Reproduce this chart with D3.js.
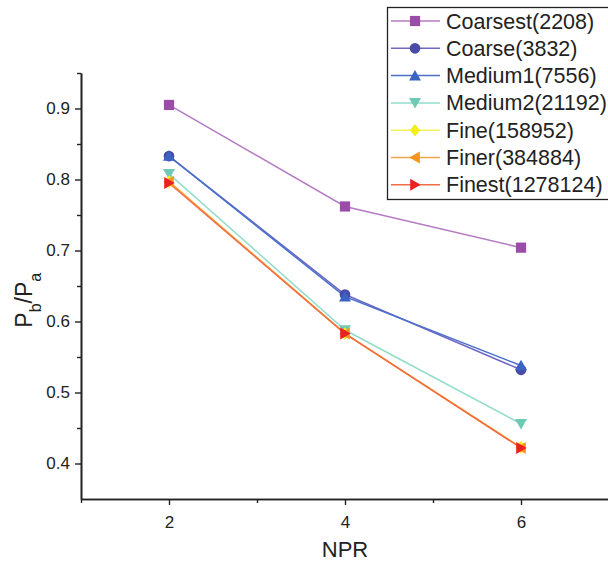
<!DOCTYPE html>
<html>
<head>
<meta charset="utf-8">
<script src="https://cdn.jsdelivr.net/npm/d3@7.9.0/dist/d3.min.js"></script>
<style>
  html, body { margin: 0; padding: 0; background: #fff; }
  svg { display: block; font-family: "Liberation Sans", Arial, sans-serif; }
</style>
</head>
<body>
<svg id="chart" width="608" height="563"></svg>
<script>
// data
const npr = [2, 4, 6];
const seriesNames = ['Coarsest(2208)', 'Coarse(3832)', 'Medium1(7556)', 'Medium2(21192)',
  'Fine(158952)', 'Finer(384884)', 'Finest(1278124)'];
const coarsest = [0.905, 0.762, 0.704];
const coarse = [0.833, 0.638, 0.532];
const medium1 = [0.833, 0.635, 0.538];
const medium2 = [0.808, 0.588, 0.456];
const fine = [0.797, 0.583, 0.423];
const finer = [0.797, 0.583, 0.422];
const finest = [0.795, 0.583, 0.422];
const xTicks = [2, 4, 6];
const yTicks = [0.4, 0.5, 0.6, 0.7, 0.8, 0.9];

const seriesValues = [coarsest, coarse, medium1, medium2, fine, finer, finest];
const markerColors = ['#9a4ca8', '#4a4aa8', '#3a63c2', '#6ec9b5', '#f2ee1a', '#f7941d', '#e8231d'];
const lineColors = ['#b47cc2', '#6f68c2', '#4a70cc', '#92dccb', '#f3ef5c', '#f9a448', '#f26c45'];
const symbols = [d3.symbolSquare, d3.symbolCircle, d3.symbolTriangle, 'down', d3.symbolDiamond, 'left', 'right'];

const svg = d3.select('#chart');
const margin = { left: 81, top: 73, bottom: 499 };

const x = d3.scaleLinear().domain([1, 7]).range([margin.left, margin.left + 6 * 88]);
const y = d3.scaleLinear().domain([0.35, 0.95]).range([margin.bottom, margin.top]);

// marker shapes
function markerPath(sym, size) {
  const r = size / 2;
  if (sym === 'down') return `M${-r},${-r * 0.8}L${r},${-r * 0.8}L0,${r * 0.95}Z`;
  if (sym === 'left') return `M${r * 0.8},${-r}L${r * 0.8},${r}L${-r * 0.95},0Z`;
  if (sym === 'right') return `M${-r * 0.8},${-r}L${-r * 0.8},${r}L${r * 0.95},0Z`;
  if (sym === d3.symbolTriangle) return `M${-r},${r * 0.8}L${r},${r * 0.8}L0,${-r * 0.95}Z`;
  if (sym === d3.symbolDiamond) return `M0,${-r * 1.05}L${r * 0.85},0L0,${r * 1.05}L${-r * 0.85},0Z`;
  if (sym === d3.symbolSquare) return `M${-r * 0.85},${-r * 0.85}h${r * 1.7}v${r * 1.7}h${-r * 1.7}Z`;
  return d3.symbol(sym, Math.PI * r * r * 0.8)();
}

// axes
const xAxis = d3.axisBottom(x).tickValues(xTicks).tickSize(6).tickSizeOuter(0).tickFormat(d3.format('d'));
const xMinor = d3.axisBottom(x).tickValues([1, 3, 5]).tickSize(4).tickSizeOuter(0).tickFormat('');
const yAxis = d3.axisLeft(y).tickValues(yTicks).tickSize(6).tickSizeOuter(0).tickFormat(d3.format('.1f'));
const yMinor = d3.axisLeft(y).tickValues([0.45, 0.55, 0.65, 0.75, 0.85, 0.95]).tickSize(4).tickSizeOuter(0).tickFormat('');

function styleAxis(g) {
  g.select('.domain').attr('stroke', '#222').attr('stroke-width', 1.6);
  g.selectAll('.tick line').attr('stroke', '#222').attr('stroke-width', 1.4);
  g.selectAll('.tick text').attr('fill', '#222').style('font-size', '17px')
    .style('font-family', '"Liberation Sans", Arial, sans-serif');
}

svg.append('g').attr('transform', `translate(0,${margin.bottom})`).call(xMinor).call(styleAxis);
svg.append('g').attr('transform', `translate(0,${margin.bottom})`).call(xAxis).call(styleAxis)
  .selectAll('.tick text').attr('dy', '1.2em');
svg.append('g').attr('transform', `translate(${margin.left},0)`).call(yMinor).call(styleAxis);
svg.append('g').attr('transform', `translate(${margin.left},0)`).call(yAxis).call(styleAxis)
  .selectAll('.tick text').attr('x', -11);

// axis titles
svg.append('text')
  .attr('x', x(4)).attr('y', 557)
  .attr('text-anchor', 'middle')
  .style('font-size', '22px').attr('fill', '#222')
  .text('NPR');

const yTitle = svg.append('text')
  .attr('transform', `translate(32,${y(0.63)}) rotate(-90)`)
  .attr('text-anchor', 'middle')
  .style('font-size', '23px').attr('fill', '#222');
yTitle.append('tspan').text('P');
yTitle.append('tspan').attr('baseline-shift', 'sub').style('font-size', '16px').text('b');
yTitle.append('tspan').text('/P');
yTitle.append('tspan').attr('baseline-shift', 'sub').style('font-size', '16px').text('a');

// lines and markers
const line = d3.line().x((d, i) => x(npr[i])).y(d => y(d));

seriesValues.forEach((vals, i) => {
  svg.append('path')
    .attr('d', line(vals))
    .attr('fill', 'none')
    .attr('stroke', lineColors[i])
    .attr('stroke-width', 1.5);
});

seriesValues.forEach((vals, i) => {
  svg.append('g').selectAll('path')
    .data(vals)
    .join('path')
    .attr('transform', (d, j) => `translate(${x(npr[j])},${y(d)})`)
    .attr('d', markerPath(symbols[i], 12))
    .attr('fill', markerColors[i]);
});

// legend
const legend = svg.append('g');
legend.append('rect')
  .attr('x', 387.5).attr('y', 7.5)
  .attr('width', 240).attr('height', 192)
  .attr('fill', '#fff').attr('stroke', '#222').attr('stroke-width', 1.3);

seriesNames.forEach((name, i) => {
  const ly = 21 + i * 27.3;
  legend.append('line')
    .attr('x1', 391).attr('x2', 440).attr('y1', ly).attr('y2', ly)
    .attr('stroke', lineColors[i]).attr('stroke-width', 1.5);
  legend.append('path')
    .attr('transform', `translate(415,${ly})`)
    .attr('d', markerPath(symbols[i], 12))
    .attr('fill', markerColors[i]);
  legend.append('text')
    .attr('x', 446).attr('y', ly + 7.5)
    .style('font-size', '21.5px').attr('fill', '#222')
    .text(name);
});
</script>
</body>
</html>
